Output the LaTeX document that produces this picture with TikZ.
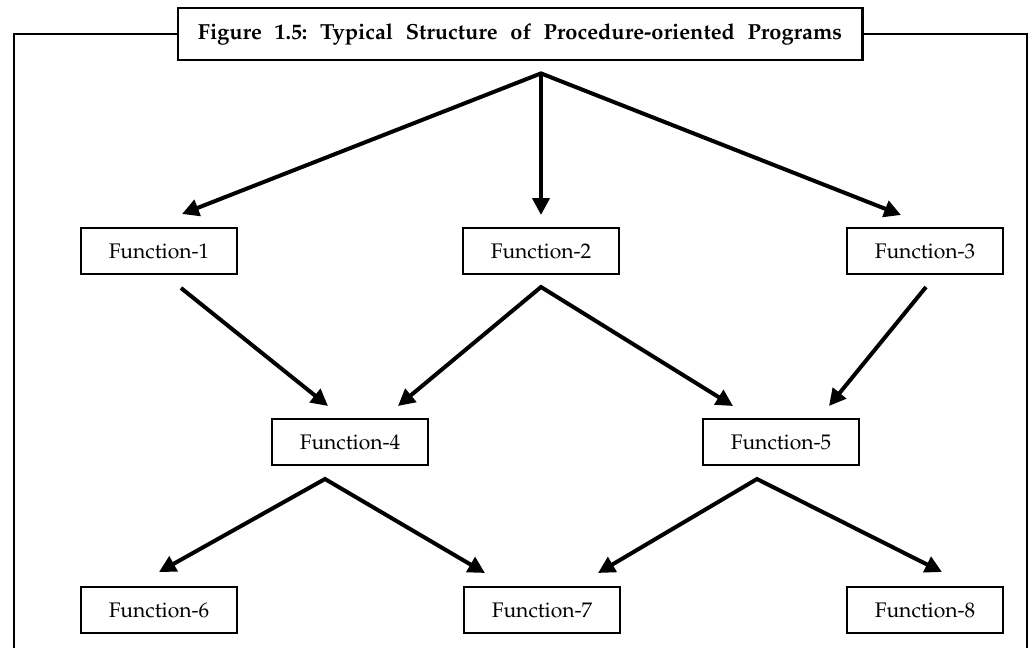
\documentclass[tikz,border=0pt]{standalone}
\usepackage[T1]{fontenc}
\usepackage{mathpazo}
\usetikzlibrary{arrows.meta, calc}

\begin{document}
\begin{tikzpicture}[x=0.025cm, y=-0.025cm,
    >={Triangle[length=0.42cm, width=0.42cm]},
    func/.style={draw, line width=0.05cm, minimum width=3.9cm, minimum height=1.15cm, inner sep=0pt, font=\fontsize{15}{18}\selectfont},
    heading/.style={draw, line width=0.07cm, minimum width=17.1cm, minimum height=1.3cm, inner sep=0pt, font=\fontsize{15.5}{18}\selectfont\bfseries\frenchspacing},
    arr/.style={line width=0.1cm, ->},
    frame/.style={line width=0.07cm}]
    \useasboundingbox (0,0) rectangle (1030,648);
    % Title and surrounding frame
    \node[heading] (title) at (520,34) {\makebox[16.1cm][s]{Figure 1.5: Typical Structure of Procedure-oriented Programs}};
    \draw[frame] (14,648) |- (title.west);
    \draw[frame] (title.east) -| (1027,648);
    % Functions
    \node[func] (f1) at (159,251) {Function-1};
    \node[func] (f2) at (541,251) {Function-2};
    \node[func] (f3) at (925,251) {Function-3};
    \node[func] (f4) at (350,442) {Function-4};
    \node[func] (f5) at (781,442) {Function-5};
    \node[func] (f6) at (159,610) {Function-6};
    \node[func] (f7) at (542,610) {Function-7};
    \node[func] (f8) at (925,610) {Function-8};
    % Arrows
    \coordinate (top) at ($(title.south)+(21,12)$);
    \draw[arr, <->] ($(f1.north)+(23,-13)$) -- (top) -- ($(f3.north)+(-24,-12)$);
    \draw[arr] (top) -- ($(f2.north)+(0,-12)$);
    \draw[arr] ($(f1.south)+(22,13)$) -- ($(f4.north)+(-22,-12)$);
    \draw[arr, <->] ($(f4.north)+(48,-12)$) -- ($(f2.south)+(0,12)$) -- ($(f5.north)+(-48,-12)$);
    \draw[arr] ($(f3.south)+(1,12)$) -- ($(f5.north)+(48,-12)$);
    \draw[arr, <->] ($(f6.north)+(0,-14)$) -- ($(f4.south)+(-25,13)$) -- ($(f7.north)+(-57,-13)$);
    \draw[arr, <->] ($(f7.north)+(56,-13)$) -- ($(f5.south)+(-24,13)$) -- ($(f8.north)+(17,-14)$);
\end{tikzpicture}
\end{document}
